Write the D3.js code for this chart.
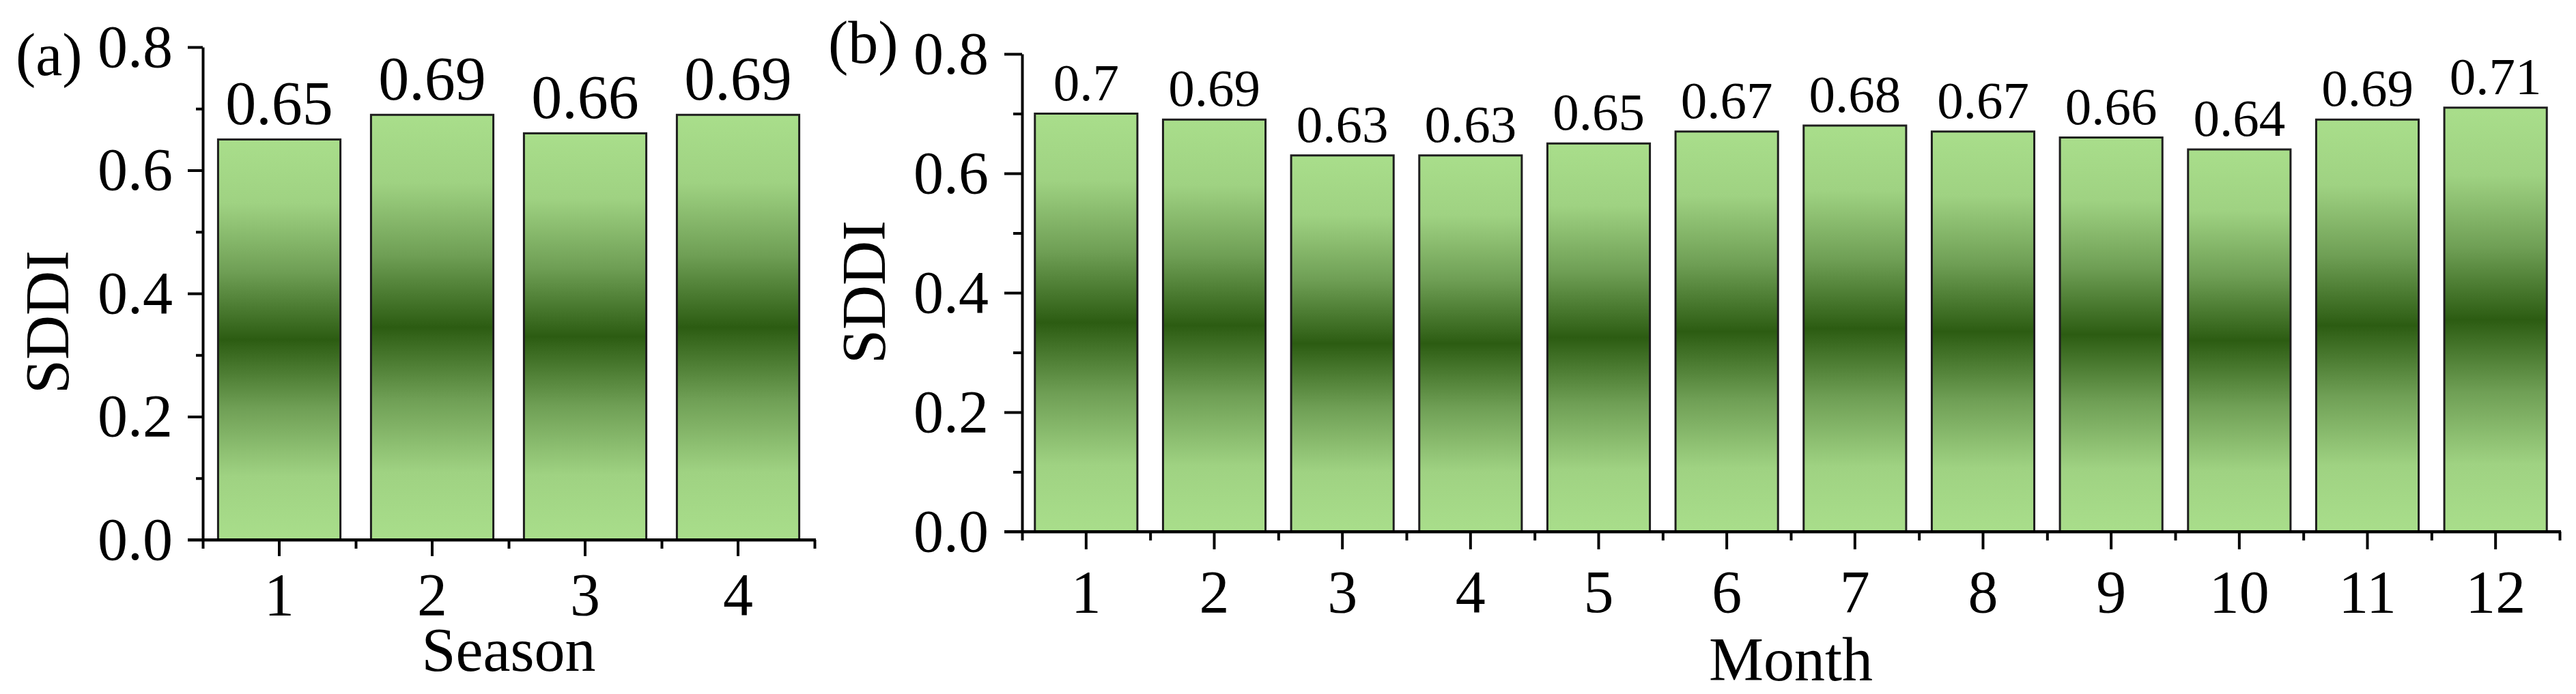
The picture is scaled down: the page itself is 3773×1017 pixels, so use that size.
<!DOCTYPE html>
<html>
<head>
<meta charset="utf-8">
<script src="https://cdn.jsdelivr.net/npm/d3@7"></script>
</head>
<body style="margin:0;padding:0;background:#fff">
<svg id="chart" width="3773" height="1017" style="display:block"></svg>
<script>
// ---- Data ----
const seasonCategories = ["1", "2", "3", "4"];
const seasonValues = [0.65, 0.69, 0.66, 0.69];
const seasonLabels = ["0.65", "0.69", "0.66", "0.69"];

const monthCategories = ["1","2","3","4","5","6","7","8","9","10","11","12"];
const monthValues = [0.70, 0.69, 0.63, 0.63, 0.65, 0.67, 0.68, 0.67, 0.66, 0.64, 0.69, 0.71];
const monthLabels = ["0.7","0.69","0.63","0.63","0.65","0.67","0.68","0.67","0.66","0.64","0.69","0.71"];

const yMajorTicks = [0, 0.2, 0.4, 0.6, 0.8];
const yMinorTicks = [0.1, 0.3, 0.5, 0.7];
const yDomain = [0, 0.8];

const FONT = "Liberation Serif";
const svg = d3.select("#chart");

// gradient
const defs = svg.append("defs");
const grad = defs.append("linearGradient").attr("id", "barGrad")
  .attr("x1", 0).attr("y1", 0).attr("x2", 0).attr("y2", 1);
[[0, "#a9de8b"], [0.16, "#9fd282"], [0.33, "#6f9f55"], [0.5, "#2c5c12"],
 [0.67, "#6f9f55"], [0.84, "#9fd282"], [1, "#a9de8b"]]
  .forEach(([o, c]) => grad.append("stop").attr("offset", o).attr("stop-color", c));

function panel(cfg) {
  const g = svg.append("g");
  const x = d3.scaleBand().domain(cfg.cats).range([cfg.x0, cfg.x1])
    .paddingInner(0.2).paddingOuter(0.1);
  const xEdge = d3.scaleLinear().domain([0, cfg.cats.length]).range([cfg.x0, cfg.x1]);
  const y = d3.scaleLinear().domain(yDomain).range([cfg.yb, cfg.yt]);

  // bars
  g.selectAll("rect.bar").data(cfg.vals).join("rect")
    .attr("class", "bar")
    .attr("x", (d, i) => x(cfg.cats[i]))
    .attr("width", x.bandwidth())
    .attr("y", d => y(d))
    .attr("height", d => y(0) - y(d))
    .attr("fill", "url(#barGrad)")
    .attr("stroke", "#1e1e1e")
    .attr("stroke-width", 3);

  // value labels
  g.selectAll("text.val").data(cfg.vals).join("text")
    .attr("class", "val")
    .attr("x", (d, i) => x(cfg.cats[i]) + x.bandwidth() / 2)
    .attr("y", d => y(d) - cfg.valGap)
    .attr("text-anchor", "middle")
    .style("font-size", cfg.valFont + "px")
    .text((d, i) => cfg.labels[i]);

  // y axis minor
  g.append("g").attr("transform", `translate(${cfg.x0},0)`)
    .call(d3.axisLeft(y).tickValues(yMinorTicks).tickSize(cfg.yMinor).tickFormat(""))
    .call(s => s.select(".domain").remove());
  // y axis major
  const ya = g.append("g").attr("transform", `translate(${cfg.x0},0)`)
    .call(d3.axisLeft(y).tickValues(yMajorTicks).tickSize(cfg.yMajor).tickSizeOuter(0)
      .tickPadding(cfg.yPad).tickFormat(d3.format(".1f")));
  ya.selectAll("text").style("font-size", "88px");

  // x axis minor (band edges)
  g.append("g").attr("transform", `translate(0,${cfg.yb})`)
    .call(d3.axisBottom(xEdge).tickValues(d3.range(0, cfg.cats.length + 1))
      .tickSize(cfg.xMinor).tickFormat(""))
    .call(s => s.select(".domain").remove());
  // x axis major
  const xa = g.append("g").attr("transform", `translate(0,${cfg.yb})`)
    .call(d3.axisBottom(x).tickSize(cfg.xMajor).tickSizeOuter(0).tickPadding(cfg.xPad));
  xa.selectAll("text").style("font-size", "88px");

  // axis styling
  g.selectAll(".domain").attr("stroke", "#000").attr("stroke-width", 4);
  g.selectAll(".tick line").attr("stroke", "#000").attr("stroke-width", 4);
  g.append("line").attr("x1", cfg.x0 - cfg.yMajor).attr("x2", cfg.x1 + 2)
    .attr("y1", cfg.yb).attr("y2", cfg.yb).attr("stroke", "#000").attr("stroke-width", 4);

  // axis titles
  g.append("text").attr("x", (cfg.x0 + cfg.x1) / 2).attr("y", cfg.xTitleY)
    .attr("text-anchor", "middle").style("font-size", "90px").text(cfg.xTitle);
  g.append("text")
    .attr("transform", `translate(${cfg.yTitleX},${cfg.yTitleCY}) rotate(-90)`)
    .attr("text-anchor", "middle").style("font-size", "90px").text("SDDI");
  g.append("text").attr("x", cfg.tagX).attr("y", cfg.tagY)
    .style("font-size", "88px").text(cfg.tag);
}

panel({
  cats: seasonCategories, vals: seasonValues, labels: seasonLabels,
  x0: 297, x1: 1193, yb: 791, yt: 69,
  valGap: 22, valFont: 90,
  yMajor: 22, yMinor: 10, yPad: 22,
  xMajor: 24, xMinor: 13, xPad: 24,
  xTitle: "Season", xTitleY: 983,
  yTitleX: 100, yTitleCY: 472,
  tag: "(a)", tagX: 23, tagY: 110
});

panel({
  cats: monthCategories, vals: monthValues, labels: monthLabels,
  x0: 1497, x1: 3749, yb: 779, yt: 79,
  valGap: 20, valFont: 77,
  yMajor: 26, yMinor: 13, yPad: 23,
  xMajor: 26, xMinor: 13, xPad: 30,
  xTitle: "Month", xTitleY: 997,
  yTitleX: 1296, yTitleCY: 428,
  tag: "(b)", tagX: 1213, tagY: 92
});

svg.selectAll("g").attr("font-family", null);
svg.selectAll("text").style("font-family", FONT).attr("fill", "#000");
</script>
</body>
</html>
